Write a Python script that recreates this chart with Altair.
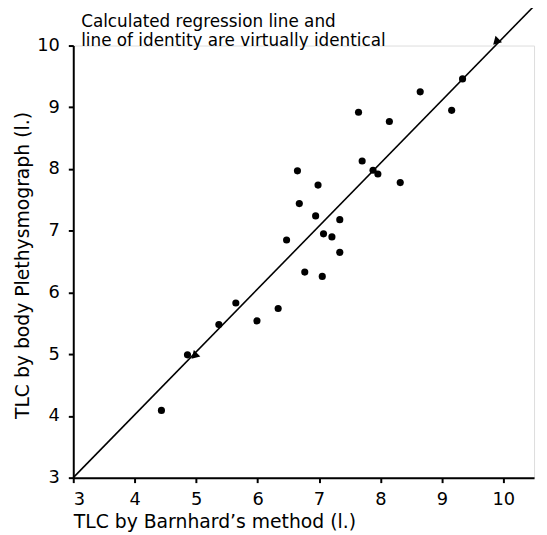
import altair as alt
import pandas as pd

x_vals = [4.435, 4.859, 5.370, 5.646, 5.990, 6.335, 6.472, 6.649, 6.679, 6.984, 6.945, 7.338, 7.073,
          7.210, 7.338, 6.768, 7.053, 7.702, 7.643, 7.879, 7.958, 8.322, 8.145, 8.647, 9.159, 9.336]
y_vals = [4.09, 4.99, 5.48, 5.83, 5.54, 5.74, 6.85, 7.97, 7.44, 7.74, 7.24, 7.18, 6.95,
          6.90, 6.65, 6.33, 6.26, 8.13, 8.92, 7.98, 7.92, 7.78, 8.77, 9.25, 8.95, 9.46]
tri_x = [4.97, 9.88]
tri_y = [4.97, 10.06]
line_x = [3.0, 10.48]
line_y = [3.0, 10.62]
x_ticks = [3, 4, 5, 6, 7, 8, 9, 10]
y_ticks = [3, 4, 5, 6, 7, 8, 9, 10]
note_lines = ["Calculated regression line and", "line of identity are virtually identical"]

pts = pd.DataFrame({"x": x_vals, "y": y_vals})
tris = pd.DataFrame({"x": tri_x, "y": tri_y})
ident = pd.DataFrame({"x": line_x, "y": line_y})

FONT = "DejaVu Sans"

xs = alt.Scale(domain=[3, 10.5], nice=False, zero=False)
ys = alt.Scale(domain=[3, 10], nice=False, zero=False)

xaxis = alt.Axis(values=x_ticks, format="d", grid=False, domainColor="black", domainWidth=2,
                 tickColor="black", tickWidth=2, tickSize=5, labelFontSize=18,
                 labelFont=FONT, labelColor="black", labelPadding=8,
                 title="TLC by Barnhard’s method (l.)", titleFont=FONT,
                 titleFontSize=19, titleFontWeight="normal", titleColor="black",
                 titleAnchor="start", titleAlign="left", titleX=0, titleY=50,
                 titleBaseline="alphabetic")
yaxis = alt.Axis(values=y_ticks, format="d", grid=False, domainColor="black", domainWidth=2,
                 tickColor="black", tickWidth=2, tickSize=5, labelFontSize=18,
                 labelFont=FONT, labelColor="black", labelPadding=9,
                 title="TLC by body Plethysmograph (l.)", titleFont=FONT,
                 titleFontSize=19, titleFontWeight="normal", titleColor="black",
                 titleX=-45, titleY=222, titleAngle=270, titleAlign="center",
                 titleBaseline="alphabetic")

base_x = alt.X("x:Q", scale=xs, axis=xaxis)
base_y = alt.Y("y:Q", scale=ys, axis=yaxis)

line = alt.Chart(ident).mark_line(color="black", strokeWidth=1.6, clip=False).encode(
    x=base_x, y=base_y)
points = alt.Chart(pts).mark_point(filled=True, color="black", size=52, opacity=1,
                                   shape="circle").encode(x="x:Q", y="y:Q")
triangles = alt.Chart(tris).mark_point(filled=True, color="black", size=85, opacity=1,
                                       shape="triangle-up", angle=225).encode(x="x:Q", y="y:Q")
note1 = alt.Chart(pd.DataFrame({"t": [note_lines[0]]})).mark_text(
    align="left", baseline="alphabetic", font=FONT, fontSize=17, color="black").encode(
    text="t:N", x=alt.value(8), y=alt.value(-19))
note2 = alt.Chart(pd.DataFrame({"t": [note_lines[1]]})).mark_text(
    align="left", baseline="alphabetic", font=FONT, fontSize=17, color="black").encode(
    text="t:N", x=alt.value(8), y=alt.value(0))

chart = (line + points + triangles + note1 + note2).properties(
    width=466, height=437,
    autosize=alt.AutoSizeParams(type="none"),
    padding={"left": 66, "top": 35, "right": 5, "bottom": 55},
).configure_view(stroke=None).configure(background="white")

chart.save("out.html", embed_options={"renderer": "svg", "actions": False})
